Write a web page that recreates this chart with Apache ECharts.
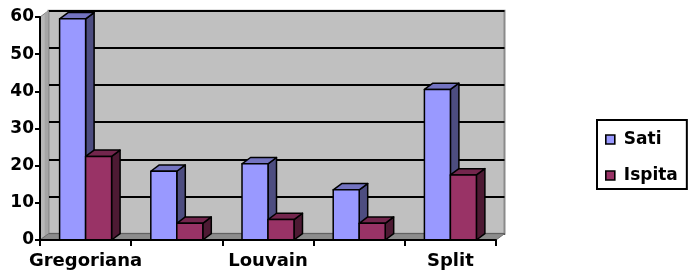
<!DOCTYPE html>
<html>
<head>
<meta charset="utf-8">
<script src="https://cdn.jsdelivr.net/npm/echarts@6/dist/echarts.min.js"></script>
<style>html,body{margin:0;padding:0;background:#fff;}#c{width:688px;height:276px;}</style>
</head>
<body>
<div id="c"></div>
<script>
var categories = ['Gregoriana', '', 'Louvain', ' ', 'Split'];
var satiValues = [59.5, 18.5, 20.5, 13.5, 40.5];
var ispitaValues = [22.5, 4.5, 5.5, 4.5, 17.5];
var yTicks = [0, 10, 20, 30, 40, 50, 60];

var DX = 8.5, DY = -6.3;
var FONT = 'DejaVu Sans';

var chart = echarts.init(document.getElementById('c'), null, {renderer: 'canvas'});

function barRenderer(front, top, side, offsetSign) {
  return function (params, api) {
    var idx = api.value(0);
    var val = api.value(1);
    var pt = api.coord([idx, val]);
    var base = api.coord([idx, 0]);
    var band = api.size([1, 0])[0];
    var w = band * 0.285;
    var x0 = offsetSign < 0 ? pt[0] - w : pt[0];
    var x1 = x0 + w;
    var yt = pt[1], yb = base[1];
    var stroke = {stroke: '#000', lineWidth: 1.5, lineJoin: 'round'};
    return {
      type: 'group',
      children: [
        {type: 'polygon', shape: {points: [[x1, yt], [x1 + DX, yt + DY], [x1 + DX, yb + DY], [x1, yb]]},
         style: Object.assign({fill: side}, stroke)},
        {type: 'polygon', shape: {points: [[x0, yt], [x1, yt], [x1 + DX, yt + DY], [x0 + DX, yt + DY]]},
         style: Object.assign({fill: top}, stroke)},
        {type: 'rect', shape: {x: x0, y: yt, width: w, height: yb - yt},
         style: Object.assign({fill: front}, stroke)}
      ]
    };
  };
}

function wallRenderer(params, api) {
  var cs = params.coordSys;
  var L = cs.x, R = cs.x + cs.width, T = cs.y, B = cs.y + cs.height;
  return {
    type: 'group',
    children: [
      {type: 'polygon', shape: {points: [[L, B], [L, T], [L + DX, T + DY], [L + DX, B + DY]]},
       style: {fill: '#B8B8B8', stroke: '#808080', lineWidth: 1}},
      {type: 'polygon', shape: {points: [[L + DX * 0.55, B + DY * 0.55], [L + DX * 0.55, T + DY * 0.55], [L + DX, T + DY], [L + DX, B + DY]]},
       style: {fill: '#A6A6A6'}},
      {type: 'polygon', shape: {points: [[L, B], [R, B], [R + DX, B + DY], [L + DX, B + DY]]},
       style: {fill: '#8C8C8C', stroke: '#707070', lineWidth: 1}}
    ]
  };
}

var option = {
  backgroundColor: '#ffffff',
  animation: false,
  textStyle: {fontFamily: FONT},
  legend: {
    orient: 'vertical',
    left: 597, top: 120,
    padding: [9, 9, 3, 8],
    itemGap: 15,
    itemWidth: 9, itemHeight: 9,
    icon: 'rect',
    borderColor: '#000', borderWidth: 2,
    backgroundColor: '#fff',
    textStyle: {fontFamily: FONT, fontWeight: 'bold', fontSize: 17, color: '#000', lineHeight: 21, padding: [0, 0, 0, 4]},
    data: [
      {name: 'Sati', itemStyle: {color: '#9999FF', borderColor: '#000', borderWidth: 1.6}},
      {name: 'Ispita', itemStyle: {color: '#993366', borderColor: '#000', borderWidth: 1.6}}
    ]
  },
  grid: [
    {left: 40, right: 192, top: 17, bottom: 36},
    {left: 40 + DX, right: 192 - DX, top: 17 + DY, bottom: 36 - DY, show: true,
     backgroundColor: '#C0C0C0', borderColor: '#8A8A8A', borderWidth: 2, z: 0}
  ],
  xAxis: [
    {type: 'category', gridIndex: 0, data: categories, boundaryGap: true,
     axisLine: {lineStyle: {color: '#000', width: 2}},
     axisTick: {show: true, interval: 0, length: 6, lineStyle: {color: '#000', width: 2}},
     axisLabel: {interval: 1, margin: 12, color: '#000', fontFamily: FONT, fontWeight: 'bold', fontSize: 18},
     z: 5},
    {type: 'category', gridIndex: 1, data: categories, show: false}
  ],
  yAxis: [
    {type: 'value', gridIndex: 0, min: 0, max: 60, interval: 10,
     axisLine: {show: true, lineStyle: {color: '#000', width: 2}},
     axisTick: {show: true, length: 5, lineStyle: {color: '#000', width: 2}},
     splitLine: {show: false},
     axisLabel: {margin: 6, color: '#000', fontFamily: FONT, fontWeight: 'bold', fontSize: 17,
       formatter: function (v) { return yTicks.indexOf(v) >= 0 ? String(v) : ''; }},
     z: 5},
    {type: 'value', gridIndex: 1, min: 0, max: 60, interval: 10,
     axisLine: {show: false}, axisTick: {show: false}, axisLabel: {show: false},
     splitLine: {show: true, lineStyle: {color: '#000', width: 2}}}
  ],
  series: [
    {type: 'custom', name: 'walls', xAxisIndex: 0, yAxisIndex: 0, renderItem: wallRenderer,
     data: [[0, 0]], z: 1, silent: true, tooltip: {show: false}},
    {type: 'custom', name: 'Sati', xAxisIndex: 0, yAxisIndex: 0, z: 3,
     itemStyle: {color: '#9999FF'},
     renderItem: barRenderer('#9999FF', '#7373C0', '#4D4D80', -1),
     data: satiValues.map(function (v, i) { return [i, v]; })},
    {type: 'custom', name: 'Ispita', xAxisIndex: 0, yAxisIndex: 0, z: 4,
     itemStyle: {color: '#993366'},
     renderItem: barRenderer('#993366', '#73264D', '#4D1A33', 1),
     data: ispitaValues.map(function (v, i) { return [i, v]; })}
  ]
};
chart.setOption(option);
</script>
</body>
</html>
